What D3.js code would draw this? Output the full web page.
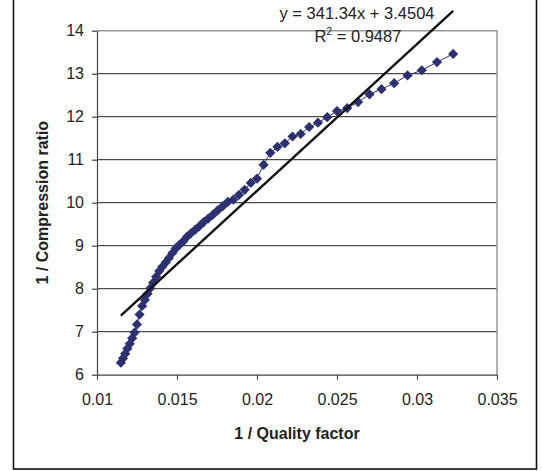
<!DOCTYPE html>
<html>
<head>
<meta charset="utf-8">
<script src="https://cdn.jsdelivr.net/npm/d3@7"></script>
<style>
	body { margin: 0; background: #fff; }
	svg { display: block; font-family: "Liberation Sans", Arial, sans-serif; }
</style>
</head>
<body>
<div id="chart"></div>
<script>
// ---------- DATA ----------
// 1 / quality factor (x) and 1 / compression ratio (y)
const invQuality = [
	0.03226, 0.03125, 0.0303, 0.02941, 0.02857, 0.02778, 0.02703, 0.02632,
	0.02564, 0.025, 0.02439, 0.02381, 0.02326, 0.02273, 0.02222, 0.02174,
	0.02128, 0.02083, 0.02041, 0.02, 0.01961, 0.01923, 0.01887, 0.01852,
	0.01818, 0.01786, 0.01754, 0.01724, 0.01695, 0.01667, 0.01639, 0.01613,
	0.01587, 0.01563, 0.01538, 0.01515, 0.01493, 0.01471, 0.01449, 0.01429,
	0.01408, 0.01389, 0.0137, 0.01351, 0.01333, 0.01316, 0.01299, 0.01282,
	0.01266, 0.0125, 0.01235, 0.0122, 0.01205, 0.0119, 0.01176, 0.01163,
	0.01149,
];
const invCompression = [
	13.46, 13.27, 13.08, 12.96, 12.78, 12.64, 12.52, 12.34,
	12.2, 12.13, 11.99, 11.86, 11.76, 11.6, 11.54, 11.38,
	11.3, 11.16, 10.88, 10.56, 10.46, 10.3, 10.18, 10.07,
	10.02, 9.92, 9.82, 9.72, 9.63, 9.55, 9.45, 9.37,
	9.29, 9.21, 9.1, 9.02, 8.94, 8.83, 8.71, 8.61,
	8.51, 8.41, 8.28, 8.14, 8.01, 7.88, 7.74, 7.6,
	7.4, 7.17, 6.98, 6.85, 6.72, 6.61, 6.49, 6.38,
	6.28,
];
const xTicks = [0.01, 0.015, 0.02, 0.025, 0.03, 0.035];
const xTickLabels = ["0.01", "0.015", "0.02", "0.025", "0.03", "0.035"];
const yTicks = [6, 7, 8, 9, 10, 11, 12, 13, 14];
const trendSlope = 341.34;
const trendIntercept = 3.4504;

// ---------- LAYOUT ----------
const size = { w: 542, h: 471 };
const plot = { left: 97, right: 497, top: 30.7, bottom: 374.7 };
const navy = "#2e3170";

const svg = d3
	.select("#chart")
	.append("svg")
	.attr("width", size.w)
	.attr("height", size.h);

// outer frame
svg.append("rect")
	.attr("x", 13.5)
	.attr("y", -2)
	.attr("width", 523)
	.attr("height", 471)
	.attr("fill", "none")
	.attr("stroke", "#111")
	.attr("stroke-width", 1.6);

const x = d3.scaleLinear().domain([0.01, 0.035]).range([plot.left, plot.right]);
const y = d3.scaleLinear().domain([6, 14]).range([plot.bottom, plot.top]);

// gridlines
svg.append("g")
	.selectAll("line")
	.data(yTicks.slice(1, -1))
	.enter()
	.append("line")
	.attr("x1", plot.left)
	.attr("x2", plot.right)
	.attr("y1", (d) => y(d))
	.attr("y2", (d) => y(d))
	.attr("stroke", "#222")
	.attr("stroke-width", 1);

// top and right border of plot area
svg.append("path")
	.attr("d", `M${plot.left},${y(14)}H${plot.right}V${plot.bottom}`)
	.attr("fill", "none")
	.attr("stroke", "#999")
	.attr("stroke-width", 1.5);

// axes
const xAxis = svg.append("g")
	.attr("transform", `translate(0, ${plot.bottom})`)
	.call(
		d3.axisBottom(x)
			.tickValues(xTicks)
			.tickFormat((d, i) => xTickLabels[i])
			.tickSize(5)
			.tickPadding(14)
			.tickSizeOuter(0)
	);
const yAxis = svg.append("g")
	.attr("transform", `translate(${plot.left}, 0)`)
	.call(
		d3.axisLeft(y)
			.tickValues(yTicks)
			.tickSize(5)
			.tickPadding(8)
			.tickSizeOuter(0)
	);
[xAxis, yAxis].forEach((a) => {
	a.selectAll("path, line").attr("stroke", "#444").attr("stroke-width", 1.2);
	a.selectAll("text")
		.attr("font-family", "Liberation Sans, Arial, sans-serif")
		.attr("font-size", 16)
		.attr("fill", "#222");
});

// data line + markers
const points = invQuality.map((q, i) => [q, invCompression[i]]);
svg.append("path")
	.datum(points)
	.attr("fill", "none")
	.attr("stroke", navy)
	.attr("stroke-width", 1)
	.attr("d", d3.line().x((d) => x(d[0])).y((d) => y(d[1])));

svg.append("g")
	.selectAll("path")
	.data(points)
	.enter()
	.append("path")
	.attr("d", d3.symbol(d3.symbolSquare, 52))
	.attr("fill", navy)
	.attr("transform", (d) => `translate(${x(d[0])}, ${y(d[1])}) rotate(45)`);

// linear trend line
const xExt = d3.extent(invQuality);
svg.append("line")
	.attr("x1", x(xExt[0]))
	.attr("x2", x(xExt[1]))
	.attr("y1", y(trendSlope * xExt[0] + trendIntercept))
	.attr("y2", y(trendSlope * xExt[1] + trendIntercept))
	.attr("stroke", "#111")
	.attr("stroke-width", 2.4);

// equation labels
svg.append("text")
	.attr("x", 357)
	.attr("y", 19)
	.attr("text-anchor", "middle")
	.attr("font-size", 16.5)
	.attr("fill", "#222")
	.text("y = 341.34x + 3.4504");
const r2 = svg.append("text")
	.attr("x", 358)
	.attr("y", 41.5)
	.attr("text-anchor", "middle")
	.attr("font-size", 16.5)
	.attr("fill", "#222");
r2.append("tspan").text("R");
r2.append("tspan").attr("font-size", 10).attr("dy", -7).text("2");
r2.append("tspan").attr("dy", 7).text(" = 0.9487");

// axis titles
svg.append("text")
	.attr("x", (plot.left + plot.right) / 2)
	.attr("y", 439)
	.attr("text-anchor", "middle")
	.attr("font-size", 16)
	.attr("font-weight", "bold")
	.attr("fill", "#222")
	.text("1 / Quality factor");
svg.append("text")
	.attr("transform", `translate(48, ${(plot.top + plot.bottom) / 2}) rotate(-90)`)
	.attr("text-anchor", "middle")
	.attr("font-size", 16)
	.attr("font-weight", "bold")
	.attr("fill", "#222")
	.text("1 / Compression ratio");
</script>
</body>
</html>
